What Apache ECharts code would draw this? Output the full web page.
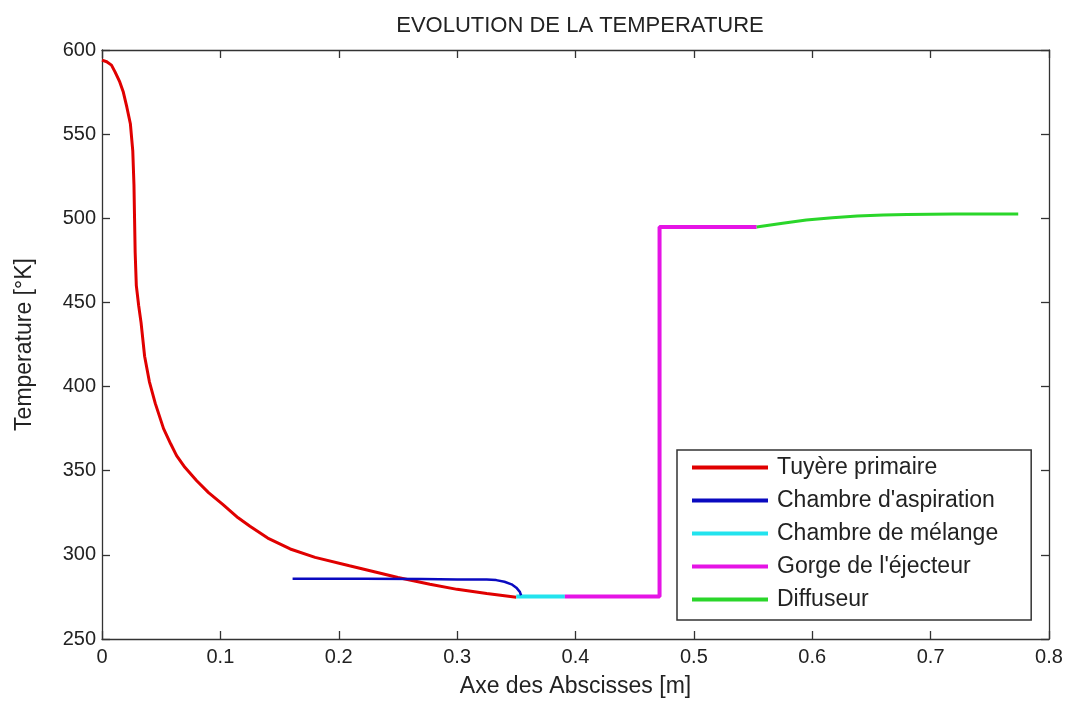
<!DOCTYPE html>
<html>
<head>
<meta charset="utf-8">
<script src="https://cdn.jsdelivr.net/npm/echarts@6/dist/echarts.min.js"></script>
<style>
html,body{margin:0;padding:0;background:#fff;}
#chart{width:1072px;height:703px;}
</style>
</head>
<body>
<div id="chart"></div>
<script>
// ---- Data ----
const titleText = "EVOLUTION DE LA TEMPERATURE";
const xAxisName = "Axe des Abscisses [m]";
const yAxisName = "Temperature [°K]";
const seriesNames = ["Tuyère primaire", "Chambre d'aspiration", "Chambre de mélange", "Gorge de l'éjecteur", "Diffuseur"];

const tuyereX = [0, 0.004, 0.008, 0.011, 0.015, 0.018, 0.021, 0.024, 0.026, 0.027, 0.0275, 0.028, 0.029, 0.031, 0.033, 0.036, 0.040, 0.045, 0.052, 0.058, 0.063, 0.070, 0.080, 0.090, 0.102, 0.115, 0.125, 0.140, 0.159, 0.180, 0.209, 0.230, 0.250, 0.277, 0.300, 0.325, 0.350];
const tuyereT = [594, 593, 591, 587, 581, 575, 566, 556, 540, 520, 500, 480, 460, 448, 438, 418, 403, 390, 375, 366, 359, 352, 344, 337, 330, 322, 317, 310, 303.5, 298.5, 293.5, 290, 286.5, 282.5, 279.5, 277, 274.8];

const aspirationX = [0.161, 0.220, 0.270, 0.300, 0.325, 0.333, 0.340, 0.346, 0.350, 0.353, 0.354];
const aspirationT = [285.8, 285.8, 285.7, 285.4, 285.3, 285.0, 284.0, 282.5, 280.5, 278.0, 276.0];

const melangeX = [0.350, 0.391];
const melangeT = [275.3, 275.3];

const gorgeX = [0.391, 0.471, 0.471, 0.553];
const gorgeT = [275.3, 275.3, 494.8, 494.8];

const diffuseurX = [0.553, 0.575, 0.595, 0.617, 0.638, 0.660, 0.680, 0.720, 0.774];
const diffuseurT = [494.8, 497.0, 499.0, 500.3, 501.3, 502.0, 502.3, 502.5, 502.5];

const xTicks = {min: 0, max: 0.8, interval: 0.1};
const yTicks = {min: 250, max: 600, interval: 50};

// ---- Chart ----
function pairs(xs, ys) { return xs.map((x, i) => [x, ys[i]]); }

const colors = ["#e00000", "#0a0ac0", "#22e3ee", "#e514e5", "#2ad62a"];
const widths = [3, 2.5, 4, 4, 3];
const dataSets = [
  pairs(tuyereX, tuyereT),
  pairs(aspirationX, aspirationT),
  pairs(melangeX, melangeT),
  pairs(gorgeX, gorgeT),
  pairs(diffuseurX, diffuseurT)
];

const FONT = "Liberation Sans, Arial, sans-serif";
const axisCommon = {
  axisLine: {show: true, onZero: false, lineStyle: {color: "#333", width: 1.3}},
  axisTick: {show: true, inside: true, length: 8, lineStyle: {color: "#333", width: 1.3}},
  splitLine: {show: false}
};

const chart = echarts.init(document.getElementById("chart"), null, {renderer: "canvas"});
chart.setOption({
  animation: false,
  backgroundColor: "#ffffff",
  title: {
    text: titleText,
    left: 575, top: 10, textAlign: "center",
    textStyle: {fontFamily: FONT, fontSize: 22, fontWeight: "normal", color: "#222"}
  },
  grid: {left: 102, right: 23, top: 50, bottom: 61, containLabel: false},
  legend: {
    orient: "vertical",
    left: 677, top: 450,
    icon: "rect",
    itemWidth: 76, itemHeight: 4, itemGap: 10,
    padding: [6, 33, 9, 15],
    backgroundColor: "#fff",
    borderColor: "#333", borderWidth: 1.5, borderRadius: 0,
    textStyle: {fontFamily: FONT, fontSize: 23, color: "#222", padding: [0, 0, 0, 4]},
    data: seriesNames
  },
  xAxis: [
    Object.assign({
      type: "value", position: "bottom",
      min: xTicks.min, max: xTicks.max, interval: xTicks.interval,
      name: xAxisName, nameLocation: "middle", nameGap: 36,
      nameTextStyle: {fontFamily: FONT, fontSize: 23, color: "#222"},
      axisLabel: {fontFamily: FONT, fontSize: 20, color: "#222", margin: 8}
    }, axisCommon),
    Object.assign({
      type: "value", position: "top",
      min: xTicks.min, max: xTicks.max, interval: xTicks.interval,
      axisLabel: {show: false}
    }, axisCommon)
  ],
  yAxis: [
    Object.assign({
      type: "value", position: "left",
      min: yTicks.min, max: yTicks.max, interval: yTicks.interval,
      name: yAxisName, nameLocation: "middle", nameGap: 66, nameRotate: 90,
      nameTextStyle: {fontFamily: FONT, fontSize: 23, color: "#222"},
      axisLabel: {fontFamily: FONT, fontSize: 20, color: "#222", margin: 6}
    }, axisCommon),
    Object.assign({
      type: "value", position: "right",
      min: yTicks.min, max: yTicks.max, interval: yTicks.interval,
      axisLabel: {show: false}
    }, axisCommon)
  ],
  series: seriesNames.map((name, i) => ({
    name: name,
    type: "line",
    xAxisIndex: 0, yAxisIndex: 0,
    data: dataSets[i],
    symbol: "none",
    showSymbol: false,
    smooth: false,
    color: colors[i],
    lineStyle: {color: colors[i], width: widths[i]},
    z: i === 1 ? 3 : 2
  }))
});
</script>
</body>
</html>
